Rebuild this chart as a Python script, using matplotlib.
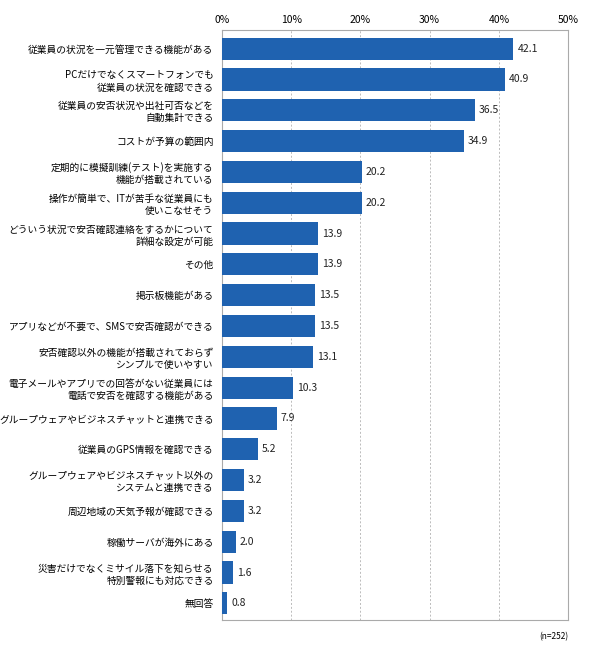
import matplotlib
matplotlib.use("Agg")
import matplotlib.pyplot as plt

plt.rcParams['font.family'] = ['Noto Sans CJK JP', 'DejaVu Sans']

categories = [
    "従業員の状況を一元管理できる機能がある",
    "PCだけでなくスマートフォンでも\n従業員の状況を確認できる",
    "従業員の安否状況や出社可否などを\n自動集計できる",
    "コストが予算の範囲内",
    "定期的に模擬訓練(テスト)を実施する\n機能が搭載されている",
    "操作が簡単で、ITが苦手な従業員にも\n使いこなせそう",
    "どういう状況で安否確認連絡をするかについて\n詳細な設定が可能",
    "その他",
    "掲示板機能がある",
    "アプリなどが不要で、SMSで安否確認ができる",
    "安否確認以外の機能が搭載されておらず\nシンプルで使いやすい",
    "電子メールやアプリでの回答がない従業員には\n電話で安否を確認する機能がある",
    "グループウェアやビジネスチャットと連携できる",
    "従業員のGPS情報を確認できる",
    "グループウェアやビジネスチャット以外の\nシステムと連携できる",
    "周辺地域の天気予報が確認できる",
    "稼働サーバが海外にある",
    "災害だけでなくミサイル落下を知らせる\n特別警報にも対応できる",
    "無回答",
]
values = [42.1, 40.9, 36.5, 34.9, 20.2, 20.2, 13.9, 13.9, 13.5, 13.5,
          13.1, 10.3, 7.9, 5.2, 3.2, 3.2, 2.0, 1.6, 0.8]
xticks = [0, 10, 20, 30, 40, 50]
xticklabels = ["0%", "10%", "20%", "30%", "40%", "50%"]

fig = plt.figure(figsize=(5.9, 6.55), dpi=100)
ax = fig.add_axes([0.376, 0.053, 0.587, 0.901])
y = list(range(len(values)))
ax.barh(y, values, height=0.72, color="#1f62b0", zorder=3)
for yi, v in zip(y, values):
    ax.text(v + 0.6, yi, f"{v:.1f}", va="center", ha="left", fontsize=7.5, color="#222222")
ax.set_xlim(0, 50)
ax.set_ylim(len(values) - 0.45, -0.6)
ax.set_yticks(y)
ax.set_yticklabels(categories, fontsize=7, linespacing=1.25)
ax.tick_params(axis="y", length=0, pad=6)
ax.xaxis.tick_top()
ax.set_xticks(xticks)
ax.set_xticklabels(xticklabels, fontsize=7.5)
ax.tick_params(axis="x", length=0, pad=4)
for x in xticks[1:-1]:
    ax.axvline(x, color="#bbbbbb", lw=0.7, ls=(0, (2, 2)), zorder=1)
for s in ax.spines.values():
    s.set_color("#aaaaaa")
    s.set_linewidth(0.8)
fig.text(0.963, 0.028, "(n=252)", ha="right", va="center", fontsize=6)
fig.savefig("out.png", dpi=100)
